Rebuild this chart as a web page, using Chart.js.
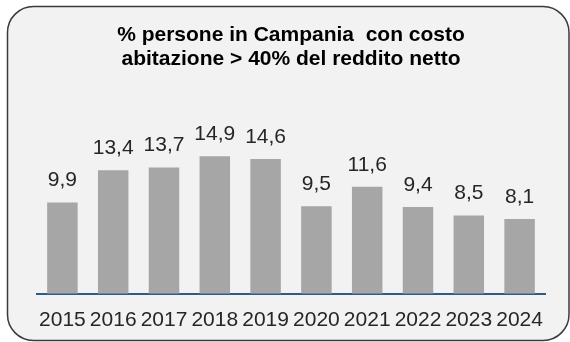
<!DOCTYPE html>
<html>
<head>
<meta charset="utf-8">
<script src="https://cdn.jsdelivr.net/npm/chart.js@4/dist/chart.umd.min.js"></script>
<style>
  html, body { margin: 0; padding: 0; background: #ffffff; }
  #wrap { width: 570px; height: 342px; }
</style>
</head>
<body>
<div id="wrap"><canvas id="chart" width="570" height="342"></canvas></div>
<script>
const years = ["2015", "2016", "2017", "2018", "2019", "2020", "2021", "2022", "2023", "2024"];
const shares = [9.9, 13.4, 13.7, 14.9, 14.6, 9.5, 11.6, 9.4, 8.5, 8.1];
const titleLines = ["% persone in Campania  con costo", "abitazione > 40% del reddito netto"];

const FONT = "'Liberation Sans', Arial, sans-serif";

// rounded grey panel behind everything
const panelPlugin = {
  id: "panel",
  beforeDraw(chart) {
    const ctx = chart.ctx;
    ctx.save();
    ctx.beginPath();
    ctx.roundRect(7.5, 6.5, 561.5, 334, 26);
    ctx.fillStyle = "#f2f2f2";
    ctx.fill();
    ctx.lineWidth = 1.5;
    ctx.strokeStyle = "#3a3a3a";
    ctx.stroke();
    ctx.restore();
  },
};

// value above each bar, italian decimal comma
const valueLabels = {
  id: "valueLabels",
  afterDatasetsDraw(chart) {
    const ctx = chart.ctx;
    const meta = chart.getDatasetMeta(0);
    ctx.save();
    ctx.font = "21px " + FONT;
    ctx.fillStyle = "#262626";
    ctx.textAlign = "center";
    ctx.textBaseline = "alphabetic";
    meta.data.forEach((bar, i) => {
      const txt = String(shares[i]).replace(".", ",");
      ctx.fillText(txt, bar.x, bar.y - 16);
    });
    ctx.restore();
  },
};

new Chart(document.getElementById("chart"), {
  type: "bar",
  data: {
    labels: years,
    datasets: [
      {
        data: shares,
        backgroundColor: "#a6a6a6",
        barPercentage: 0.6,
        categoryPercentage: 1,
      },
    ],
  },
  options: {
    responsive: false,
    animation: false,
    layout: { padding: { left: 37, right: 25, top: 0, bottom: -5 } },
    plugins: {
      legend: { display: false },
      tooltip: { enabled: false },
      title: {
        display: true,
        text: titleLines,
        color: "#000000",
        font: { family: FONT, size: 21, weight: "bold", lineHeight: 1.15 },
        padding: { top: 23, bottom: 38 },
      },
    },
    scales: {
      x: {
        grid: { display: false, drawTicks: false },
        border: { display: true, color: "#2e5c8a", width: 2 },
        ticks: {
          color: "#262626",
          font: { family: FONT, size: 21 },
          padding: 14,
          maxRotation: 0,
          autoSkip: false,
        },
      },
      y: {
        display: false,
        min: 0,
        max: 20,
      },
    },
  },
  plugins: [panelPlugin, valueLabels],
});
</script>
</body>
</html>
